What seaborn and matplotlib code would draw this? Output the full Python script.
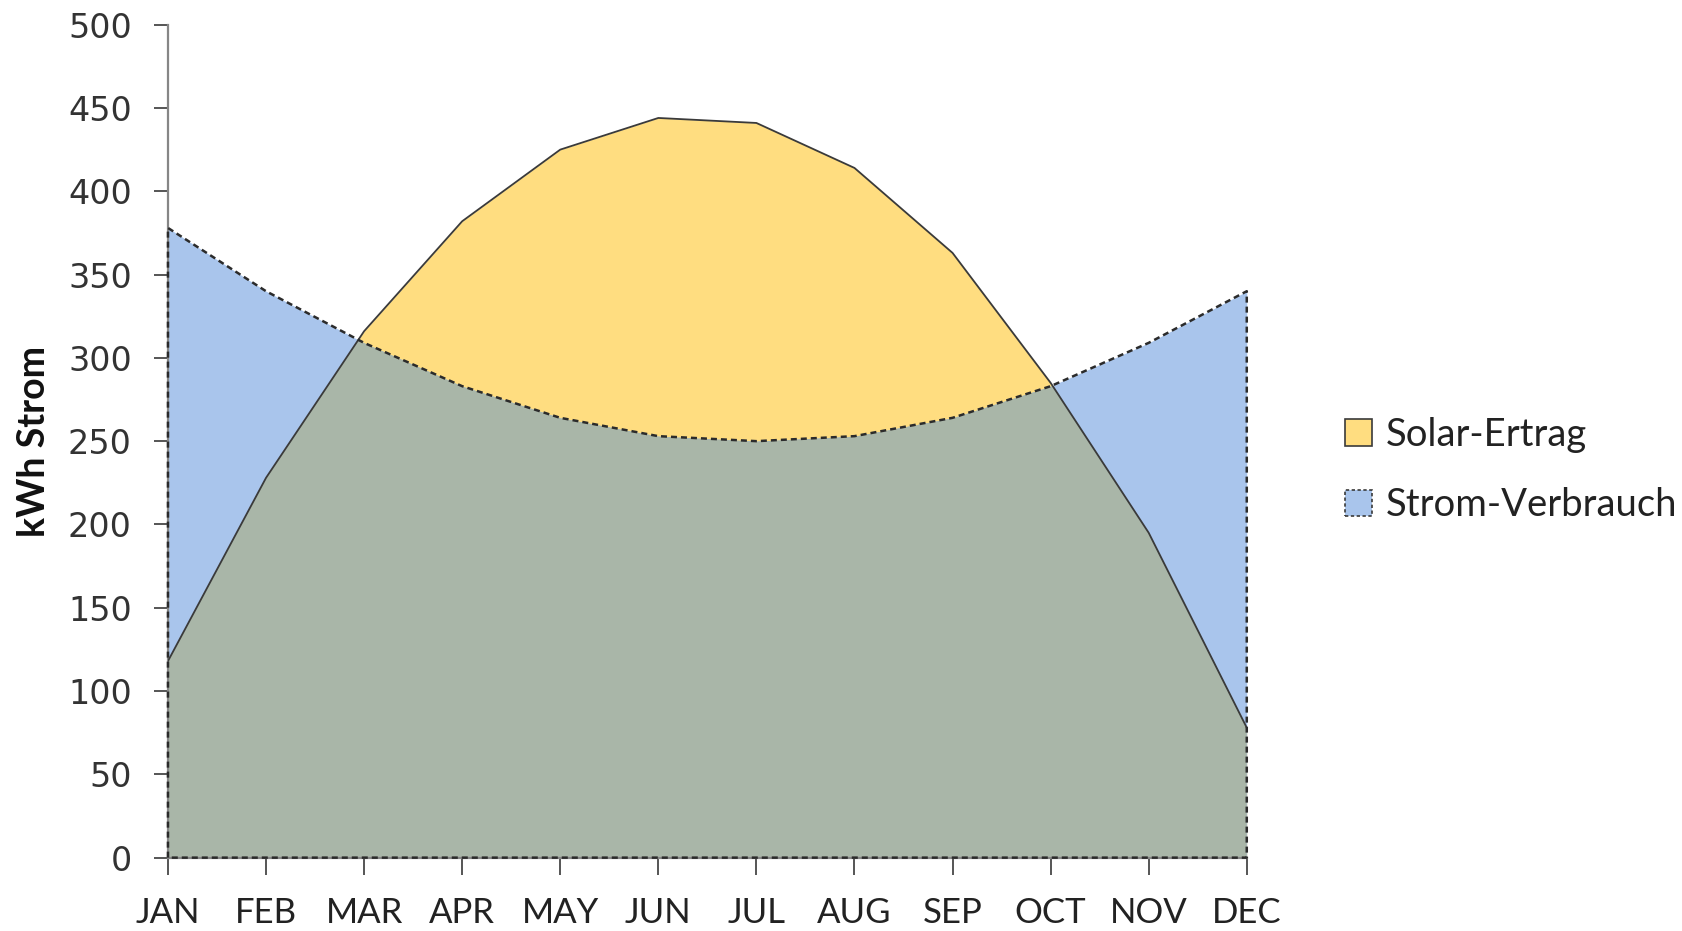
# solar yield vs power consumption per month
import numpy as np
import pandas as pd
import matplotlib
matplotlib.use("AGG")
import matplotlib.pyplot as plt
import seaborn as sns
from matplotlib.patches import Patch
from matplotlib.path import Path

months = ['JAN','FEB','MAR','APR','MAY','JUN','JUL','AUG','SEP','OCT','NOV','DEC']
solar = [118, 228, 316, 382, 425, 444, 441, 414, 363, 285, 195, 78]
verbrauch = [378, 340, 309, 283, 264, 253, 250, 253, 264, 283, 309, 340]
yticks = [0, 50, 100, 150, 200, 250, 300, 350, 400, 450, 500]

col_solar = '#FFDD80'
col_strom = '#A9C5EC'
col_both = '#A9B6A8'

df = pd.DataFrame({'idx': range(len(months)), 'Monat': months,
                   'Solar-Ertrag': solar, 'Strom-Verbrauch': verbrauch})

sns.set_theme(style="white")
plt.rcParams['font.family'] = ['Lato', 'DejaVu Sans']

fig = plt.figure(figsize=(16.83, 9.31), dpi=100)
ax = fig.add_axes([0.0998, 0.0788, 0.641, 0.8947])

x = df['idx'].values
# areas: overlap gets its own colour by clipping to the solar polygon
ax.fill_between(x, 0, df['Solar-Ertrag'], color=col_solar, lw=0, zorder=1)
ax.fill_between(x, 0, df['Strom-Verbrauch'], color=col_strom, lw=0, zorder=1)
overlap = ax.fill_between(x, 0, df['Strom-Verbrauch'], color=col_both, lw=0, zorder=2)
clip = Path(np.vstack([[0, 0]] + [[i, v] for i, v in zip(x, solar)] + [[x[-1], 0]]))
overlap.set_clip_path(clip, ax.transData)

# outlines
sns.lineplot(data=df, x='idx', y='Solar-Ertrag', color='#3a3a3a', lw=1.3, ax=ax, zorder=4)
ax.plot(np.r_[x[0], x, x[-1], x[0]], np.r_[0, verbrauch, 0, 0], color='#2b2b2b',
        lw=1.8, ls=(0, (2.4, 1.6)), zorder=5, clip_on=False)

ax.set_xlim(0, 11)
ax.set_ylim(0, 500)
ax.set_xticks(x)
ax.set_xticklabels(months, fontsize=25, color='#222222')
ax.set_yticks(yticks)
ax.set_yticklabels([str(t) for t in yticks], fontsize=24, color='#333333', family='DejaVu Sans')
ax.set_xlabel('')
ax.set_ylabel('kWh Strom', fontsize=27, fontweight='bold', color='#111111', labelpad=12)

for s in ['top', 'right']:
    ax.spines[s].set_visible(False)
for s in ['left', 'bottom']:
    ax.spines[s].set_color('#868686')
    ax.spines[s].set_linewidth(1.6)
ax.tick_params(axis='x', direction='out', length=12, width=1.4, color='#555555', pad=16, bottom=True)
ax.tick_params(axis='y', direction='out', length=10, width=1.4, color='#555555', pad=16, left=True)

handles = [Patch(facecolor=col_solar, edgecolor='#3a3a3a', lw=1.2, label='Solar-Ertrag'),
           Patch(facecolor=col_strom, edgecolor='#3a3a3a', lw=1.2, ls=(0, (2, 1.5)), label='Strom-Verbrauch')]
fig.legend(handles=handles, loc='center left', bbox_to_anchor=(0.779, 0.495), frameon=False,
           fontsize=27.5, handlelength=0.7, handleheight=0.7, handletextpad=0.35, labelspacing=0.9,
           labelcolor='#222222')

plt.savefig('out.png', dpi=100)
